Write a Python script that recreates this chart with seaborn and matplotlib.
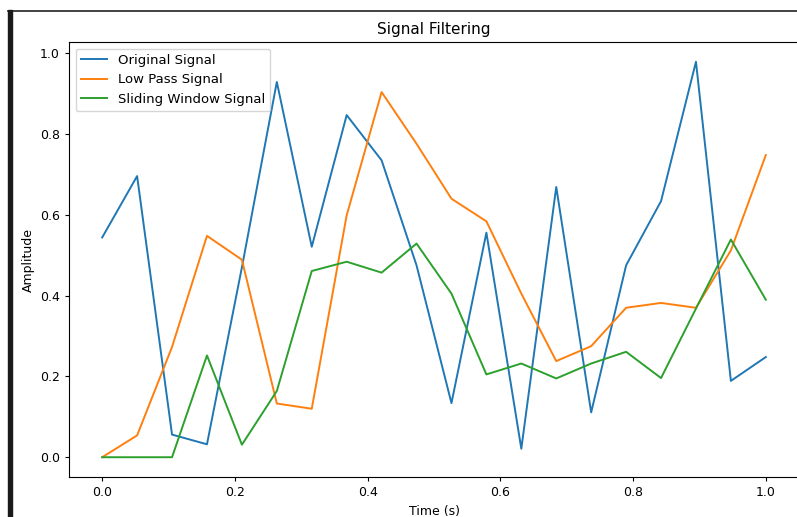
import numpy as np
import pandas as pd
import matplotlib
matplotlib.use('Agg')
import matplotlib.pyplot as plt
import seaborn as sns
from matplotlib.patches import Rectangle
from matplotlib.lines import Line2D

# values
time = np.linspace(0, 1, 20)
original = [0.544, 0.696, 0.056, 0.032, 0.47, 0.929, 0.521, 0.847, 0.735, 0.475,
            0.134, 0.556, 0.021, 0.669, 0.111, 0.475, 0.634, 0.979, 0.189, 0.248]
low_pass = [0.0, 0.054, 0.273, 0.548, 0.489, 0.133, 0.12, 0.599, 0.904, 0.776,
            0.640, 0.584, 0.405, 0.238, 0.275, 0.370, 0.382, 0.370, 0.512, 0.748]
sliding = [0.0, 0.0, 0.0, 0.252, 0.031, 0.164, 0.461, 0.484, 0.457, 0.529,
           0.405, 0.205, 0.232, 0.195, 0.232, 0.261, 0.196, 0.368, 0.539, 0.390]
labels = ['Original Signal', 'Low Pass Signal', 'Sliding Window Signal']

# long format for seaborn
df = pd.DataFrame({
    'Time (s)': np.tile(time, 3),
    'Amplitude': original + low_pass + sliding,
    'Signal': np.repeat(labels, len(time)),
})

plt.rcParams['font.family'] = ['DejaVu Sans']
plt.rcParams['font.size'] = 9

fig = plt.figure(figsize=(7.97, 5.17), dpi=100)
ax = fig.add_axes([69 / 797, 40 / 517, 730 / 797, 435 / 517])

sns.lineplot(data=df, x='Time (s)', y='Amplitude', hue='Signal', hue_order=labels,
             palette=['#1f77b4', '#ff7f0e', '#2ca02c'], linewidth=1.4, ax=ax)

ax.set_title('Signal Filtering', fontsize=11)
ax.set_xlabel('Time (s)', fontsize=9)
ax.set_ylabel('Amplitude', fontsize=9)
ax.set_xticks([0.0, 0.2, 0.4, 0.6, 0.8, 1.0])
ax.set_yticks([0.0, 0.2, 0.4, 0.6, 0.8, 1.0])
ax.tick_params(labelsize=9, length=3)
for s in ax.spines.values():
    s.set_linewidth(0.8)
ax.legend(loc='upper left', fontsize=9.5, title=None)

# screenshot frame: dark bar on the left, line across the top
fig.add_artist(Rectangle((8 / 797, 0), 4 / 797, 1 - 10 / 517, transform=fig.transFigure,
                         color='#1a1a1a', zorder=10))
fig.add_artist(Line2D([8 / 797, 1], [1 - 11 / 517, 1 - 11 / 517], transform=fig.transFigure,
                      color='#222222', linewidth=1.2))

fig.savefig('out.png', dpi=100)
